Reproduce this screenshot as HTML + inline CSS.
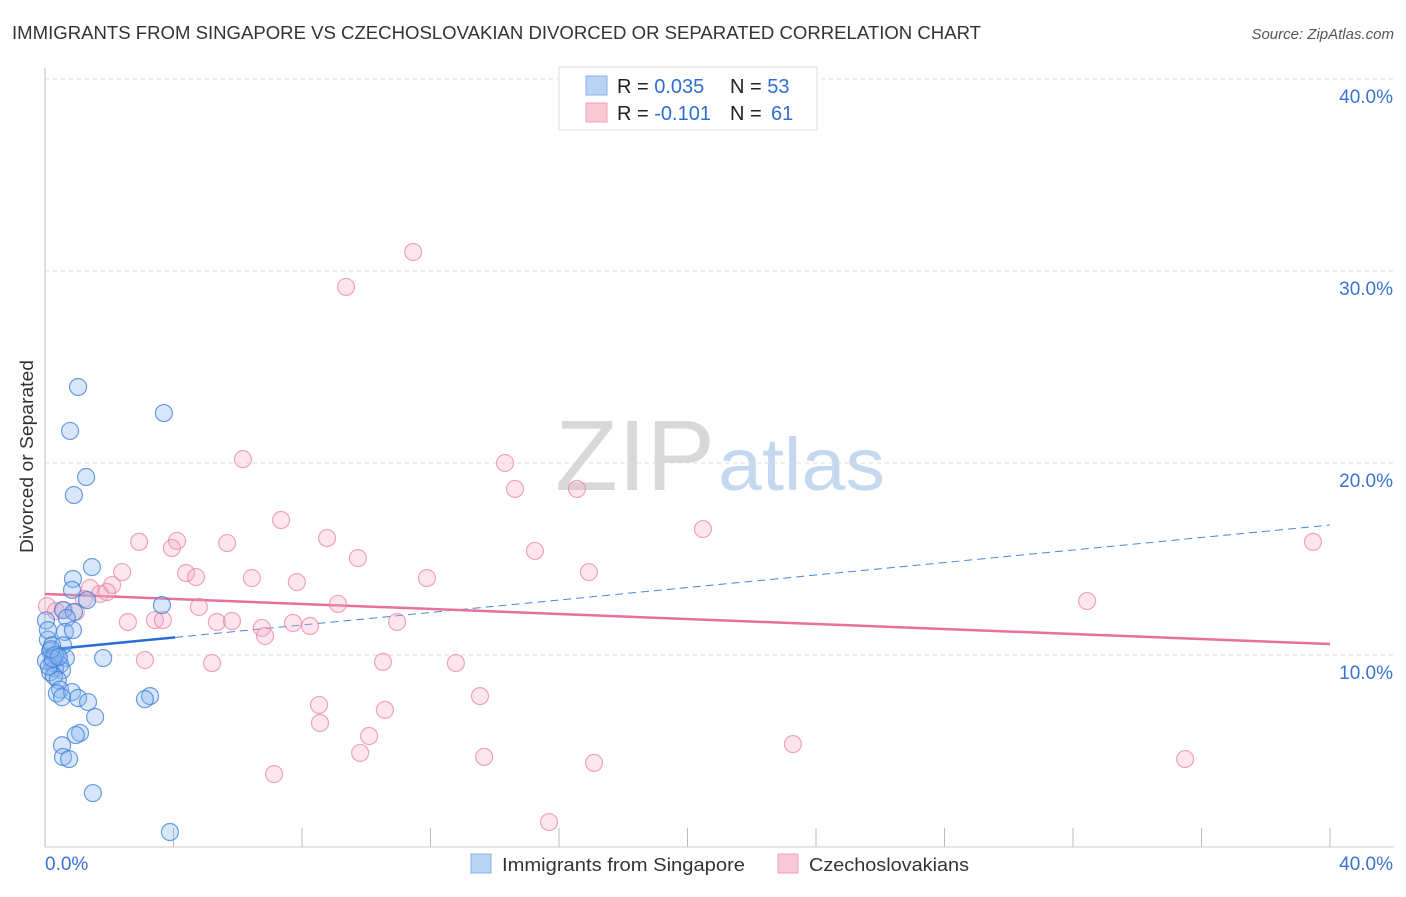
<!DOCTYPE html>
<html><head><meta charset="utf-8"><style>
body{margin:0;background:#fff;font-family:"Liberation Sans",sans-serif;}
svg text{font-family:"Liberation Sans",sans-serif;}
</style></head><body>
<svg id="chart" width="1406" height="892">
<text x="12" y="39" font-size="18.5" fill="#333" textLength="969" lengthAdjust="spacingAndGlyphs">IMMIGRANTS FROM SINGAPORE VS CZECHOSLOVAKIAN DIVORCED OR SEPARATED CORRELATION CHART</text>
<text x="1394" y="39" font-size="15" fill="#555" font-style="italic" text-anchor="end">Source: ZipAtlas.com</text>
<text x="33" y="553" font-size="18" fill="#333" textLength="193" lengthAdjust="spacingAndGlyphs" transform="rotate(-90 33 553)">Divorced or Separated</text>
<g><text x="555" y="490" font-size="100" fill="#d8d8d8" font-family="Liberation Serif,serif" textLength="160" lengthAdjust="spacingAndGlyphs">ZIP</text><text x="718" y="490" font-size="74" fill="#c4d8f0" textLength="167" lengthAdjust="spacingAndGlyphs">atlas</text></g>
<g id="grid"></g><g id="axes"></g><g id="lines"></g><g id="pts"></g>
<g>
<rect x="559" y="67" width="258" height="63" fill="#fff" stroke="#ddd"/>
<rect x="586" y="76" width="21" height="19" fill="#b9d3f5" stroke="#8ab0e6"/>
<rect x="586" y="103" width="21" height="19" fill="#fac7d7" stroke="#f0a0b8"/>
<text x="617" y="93" font-size="20" fill="#222">R = <tspan fill="#2f6fd1">0.035</tspan><tspan x="730">N = </tspan><tspan fill="#2f6fd1">53</tspan></text>
<text x="617" y="120" font-size="20" fill="#222">R = <tspan fill="#2f6fd1">-0.101</tspan><tspan x="730">N = </tspan><tspan fill="#2f6fd1" x="771">61</tspan></text>
</g>
<g>
<rect x="471" y="854" width="20" height="19" fill="#b9d3f5" stroke="#8ab0e6"/>
<text x="502" y="871" font-size="18.5" fill="#333" textLength="243" lengthAdjust="spacingAndGlyphs">Immigrants from Singapore</text>
<rect x="778" y="854" width="20" height="19" fill="#fac7d7" stroke="#f0a0b8"/>
<text x="809" y="871" font-size="18.5" fill="#333" textLength="160" lengthAdjust="spacingAndGlyphs">Czechoslovakians</text>
</g>
</svg>
<script>
const yTicks=[10,20,30,40];
const yTickLabels=["10.0%","20.0%","30.0%","40.0%"];
const xTicks=[0,4,8,12,16,20,24,28,32,36,40];
const blueX=[1.03,3.70,0.78,1.28,0.90,1.46,0.87,0.84,1.31,3.64,0.56,0.90,0.68,0.03,0.62,0.87,0.09,0.56,0.16,0.37,0.65,1.81,0.22,0.47,0.31,0.53,0.16,0.28,0.40,0.47,0.37,0.84,0.53,1.03,1.34,3.27,3.11,1.56,1.09,0.96,0.53,0.56,0.75,1.49,3.89,0.09,0.22,0.03,0.31,0.12,0.25,0.19,0.43];
const blueY=[23.96,22.6,21.67,19.27,18.33,14.58,13.96,13.39,12.86,12.6,12.34,12.24,11.93,11.8,11.2,11.3,10.8,10.5,10.2,10.0,9.84,9.84,9.6,9.5,9.3,9.2,9.1,8.9,8.7,8.2,8.0,8.07,7.8,7.76,7.55,7.86,7.7,6.77,5.94,5.83,5.3,4.69,4.58,2.81,0.78,11.3,10.5,9.7,10.0,9.4,9.8,10.3,9.9];
const pinkX=[11.46,9.37,6.16,14.32,14.63,16.56,7.35,20.48,39.47,8.78,2.93,4.11,5.67,3.95,15.25,9.74,2.40,16.93,4.39,4.70,6.44,11.89,7.84,1.40,2.09,1.71,1.93,1.21,32.44,9.12,4.79,0.59,0.96,0.34,0.06,2.58,3.42,3.67,5.35,5.82,10.96,7.72,8.25,6.75,6.85,3.11,5.20,10.52,12.79,13.54,8.53,10.58,8.56,10.09,23.28,9.81,13.67,17.09,35.49,7.13,15.69];
const pinkY=[30.99,29.17,20.2,20.0,18.65,18.65,17.03,16.56,15.89,16.09,15.89,15.94,15.83,15.57,15.42,15.05,14.32,14.32,14.27,14.06,14.01,14.01,13.8,13.49,13.65,13.18,13.28,12.92,12.81,12.66,12.5,12.34,12.24,12.29,12.55,11.72,11.82,11.82,11.72,11.77,11.72,11.67,11.51,11.41,10.99,9.74,9.58,9.64,9.58,7.86,7.4,7.14,6.46,5.78,5.36,4.9,4.69,4.38,4.58,3.8,1.3];
const blueTrend=[10.26,16.77];
const pinkTrend=[13.18,10.57];
const NS="http://www.w3.org/2000/svg";
const sx=v=>45+v*32.125, sy=v=>847-v*19.2;
function mk(tag,attrs,parent){const e=document.createElementNS(NS,tag);for(const k in attrs)e.setAttribute(k,attrs[k]);document.getElementById(parent).appendChild(e);return e;}
yTicks.forEach((t,i)=>{
 const g=mk('line',{x1:45,x2:1394,y1:sy(t),y2:sy(t),stroke:'#ddd','stroke-dasharray':'4,4'},'grid');
 
 
 const l=mk('text',{x:1393,y:sy(t)+24,'font-size':19,fill:'#3a74d0','text-anchor':'end'},'axes');
 l.textContent=yTickLabels[i];
 
 
});
const ax=mk('line',{x1:45,x2:45,y1:68,y2:847,stroke:'#bbb'},'axes');


const bx=mk('line',{x1:45,x2:1394,y1:847,y2:847,stroke:'#ccc'},'axes');


xTicks.forEach(t=>{const m=mk('line',{x1:sx(t),x2:sx(t),y1:828,y2:847,stroke:'#bbb'},'axes');
 
 });
const xl0=mk('text',{x:45,y:870,'font-size':19,fill:'#3a74d0'},'axes');xl0.textContent='0.0%';


const xl1=mk('text',{x:1393,y:870,'font-size':19,fill:'#3a74d0','text-anchor':'end'},'axes');xl1.textContent='40.0%';


pinkX.forEach((x,i)=>{const c=mk('circle',{cx:sx(x),cy:sy(pinkY[i]),r:8.5,fill:'rgba(246,170,196,0.3)',stroke:'rgba(232,130,165,0.7)','stroke-width':1.2},'pts');
 
 });
blueX.forEach((x,i)=>{const c=mk('circle',{cx:sx(x),cy:sy(blueY[i]),r:8.5,fill:'rgba(140,182,240,0.35)',stroke:'rgba(60,125,215,0.75)','stroke-width':1.2},'pts');
 
 });
const bt=x=>blueTrend[0]+(blueTrend[1]-blueTrend[0])*x/40;
const l1=mk('line',{x1:sx(0),y1:sy(bt(0)),x2:sx(4.05),y2:sy(bt(4.05)),stroke:'#2a6fd6','stroke-width':2.5},'lines');


const l2=mk('line',{x1:sx(4.05),y1:sy(bt(4.05)),x2:sx(40),y2:sy(bt(40)),stroke:'#4a85dc','stroke-width':1,'stroke-dasharray':'8,5'},'lines');


const l3=mk('line',{x1:sx(0),y1:sy(pinkTrend[0]),x2:sx(40),y2:sy(pinkTrend[1]),stroke:'#e8709a','stroke-width':2.5},'lines');


</script>
</body></html>
